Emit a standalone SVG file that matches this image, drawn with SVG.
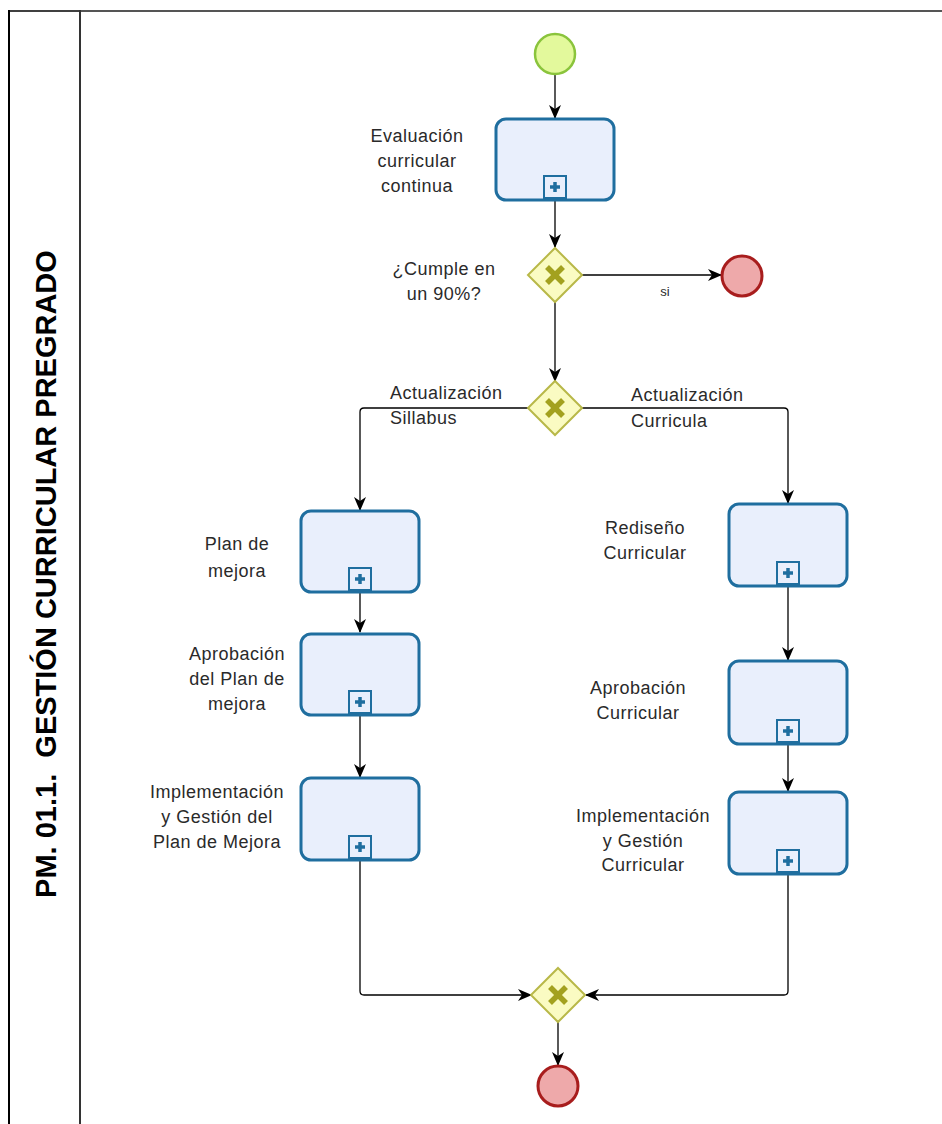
<svg xmlns="http://www.w3.org/2000/svg" width="942" height="1124" viewBox="0 0 942 1124">
  <defs>
    <style>
      .lbl { font-family: "Liberation Sans", Arial, sans-serif; font-size: 18px; letter-spacing: 0.5px; fill: #2a2a2a; }
      .lblc { text-anchor: middle; }
      .task { fill: #e9effc; stroke: #1f6e9f; stroke-width: 3; }
      .sub { fill: #e9effc; stroke: #1f6e9f; stroke-width: 2; }
      .subx { stroke: #1f6e9f; stroke-width: 3.5; }
      .gw { fill: #fafbc2; stroke: #b8b848; stroke-width: 2; }
      .gwx { stroke: #a3a11f; stroke-width: 5.5; stroke-linecap: butt; }
      .start { fill: #e3f99c; stroke: #8ac43c; stroke-width: 2.5; }
      .end { fill: #eea9aa; stroke: #a81d1d; stroke-width: 3; }
      .flow { fill: none; stroke: #000; stroke-width: 1.3; marker-end: url(#arrow); }
    </style>
    <marker id="arrow" viewBox="0 0 14 14" refX="13" refY="7" markerWidth="14" markerHeight="14" markerUnits="userSpaceOnUse" orient="auto">
      <path d="M0,1 L14,7 L0,13 L4,7 z" fill="#000"/>
    </marker>
    <g id="subMarker">
      <rect x="-11" y="-11" width="22" height="22" class="sub"/>
      <line x1="-5" y1="0" x2="5" y2="0" class="subx"/>
      <line x1="0" y1="-5" x2="0" y2="5" class="subx"/>
    </g>
    <g id="xMark">
      <line x1="-8" y1="-8" x2="8" y2="8" class="gwx"/>
      <line x1="8" y1="-8" x2="-8" y2="8" class="gwx"/>
    </g>
  </defs>

  <rect width="942" height="1124" fill="#ffffff"/>

  <!-- pool frame and lane header -->
  <g id="pool">
    <line x1="80" y1="11" x2="942" y2="11" stroke="#555" stroke-width="2"/>
    <line x1="9" y1="11" x2="80" y2="11" stroke="#000" stroke-width="1.5"/>
    <line x1="9" y1="10" x2="9" y2="1124" stroke="#000" stroke-width="2"/>
    <line x1="80" y1="10" x2="80" y2="1124" stroke="#333" stroke-width="2"/>
    <text transform="translate(56,574) rotate(-90)" text-anchor="middle" font-family="'Liberation Sans', Arial, sans-serif" font-weight="bold" font-size="29" fill="#000" xml:space="preserve">PM. 01.1.  GESTIÓN CURRICULAR PREGRADO</text>
  </g>

  <!-- sequence flows -->
  <g id="connectors">
    <path class="flow" d="M555,75 L555,118"/>
    <path class="flow" d="M555,201 L555,247"/>
    <path class="flow" d="M582,275 L721,275"/>
    <path class="flow" d="M555,302 L555,381"/>
    <path class="flow" d="M528,408 L364,408 Q360,408 360,412 L360,510"/>
    <path class="flow" d="M582,408 L784,408 Q788,408 788,412 L788,503"/>
    <path class="flow" d="M360,592 L360,632"/>
    <path class="flow" d="M360,716 L360,777"/>
    <path class="flow" d="M360,861 L360,991 Q360,995 364,995 L531,995"/>
    <path class="flow" d="M788,587 L788,660"/>
    <path class="flow" d="M788,745 L788,791"/>
    <path class="flow" d="M788,875 L788,991 Q788,995 784,995 L586,995"/>
    <path class="flow" d="M558,1022 L558,1065"/>
    <text x="665" y="296" text-anchor="middle" font-family="'Liberation Sans', Arial, sans-serif" font-size="13" fill="#2a2a2a">si</text>
  </g>

  <g id="start">
    <circle cx="555" cy="54" r="20" class="start"/>
  </g>

  <g id="task-evaluacion">
    <rect x="496" y="119" width="118" height="81" rx="10" class="task"/>
    <use href="#subMarker" x="555" y="187"/>
    <text class="lbl lblc" x="417" y="142">Evaluación</text>
    <text class="lbl lblc" x="417" y="167">curricular</text>
    <text class="lbl lblc" x="417" y="192">continua</text>
  </g>

  <g id="gw-cumple">
    <polygon points="555,248 582,275 555,302 528,275" class="gw"/>
    <use href="#xMark" x="555" y="275"/>
    <text class="lbl lblc" x="444" y="275">¿Cumple en</text>
    <text class="lbl lblc" x="444" y="300">un 90%?</text>
  </g>

  <g id="end-top">
    <circle cx="742" cy="276" r="20" class="end"/>
  </g>

  <g id="gw-actualizacion">
    <polygon points="555,381 582,408 555,435 528,408" class="gw"/>
    <use href="#xMark" x="555" y="408"/>
    <text class="lbl" x="390" y="399">Actualización</text>
    <text class="lbl" x="390" y="424">Sillabus</text>
    <text class="lbl" x="631" y="401">Actualización</text>
    <text class="lbl" x="631" y="427">Curricula</text>
  </g>

  <g id="task-plan-mejora">
    <rect x="301" y="511" width="118" height="81" rx="10" class="task"/>
    <use href="#subMarker" x="360" y="579"/>
    <text class="lbl lblc" x="237" y="550">Plan de</text>
    <text class="lbl lblc" x="237" y="577">mejora</text>
  </g>

  <g id="task-aprobacion-plan">
    <rect x="301" y="634" width="118" height="81" rx="10" class="task"/>
    <use href="#subMarker" x="360" y="702"/>
    <text class="lbl lblc" x="237" y="660">Aprobación</text>
    <text class="lbl lblc" x="237" y="685">del Plan de</text>
    <text class="lbl lblc" x="237" y="710">mejora</text>
  </g>

  <g id="task-implementacion-plan">
    <rect x="301" y="778" width="118" height="82" rx="10" class="task"/>
    <use href="#subMarker" x="360" y="847"/>
    <text class="lbl lblc" x="217" y="798">Implementación</text>
    <text class="lbl lblc" x="217" y="823">y Gestión del</text>
    <text class="lbl lblc" x="217" y="848">Plan de Mejora</text>
  </g>

  <g id="task-rediseno">
    <rect x="729" y="504" width="118" height="82" rx="10" class="task"/>
    <use href="#subMarker" x="788" y="573"/>
    <text class="lbl lblc" x="645" y="534">Rediseño</text>
    <text class="lbl lblc" x="645" y="559">Curricular</text>
  </g>

  <g id="task-aprobacion-curricular">
    <rect x="729" y="661" width="118" height="83" rx="10" class="task"/>
    <use href="#subMarker" x="788" y="731"/>
    <text class="lbl lblc" x="638" y="694">Aprobación</text>
    <text class="lbl lblc" x="638" y="719">Curricular</text>
  </g>

  <g id="task-implementacion-curricular">
    <rect x="729" y="792" width="118" height="82" rx="10" class="task"/>
    <use href="#subMarker" x="788" y="861"/>
    <text class="lbl lblc" x="643" y="822">Implementación</text>
    <text class="lbl lblc" x="643" y="847">y Gestión</text>
    <text class="lbl lblc" x="643" y="871">Curricular</text>
  </g>

  <g id="gw-merge">
    <polygon points="558,968 585,995 558,1022 531,995" class="gw"/>
    <use href="#xMark" x="558" y="995"/>
  </g>

  <g id="end-bottom">
    <circle cx="558" cy="1086" r="20" class="end"/>
  </g>
</svg>
